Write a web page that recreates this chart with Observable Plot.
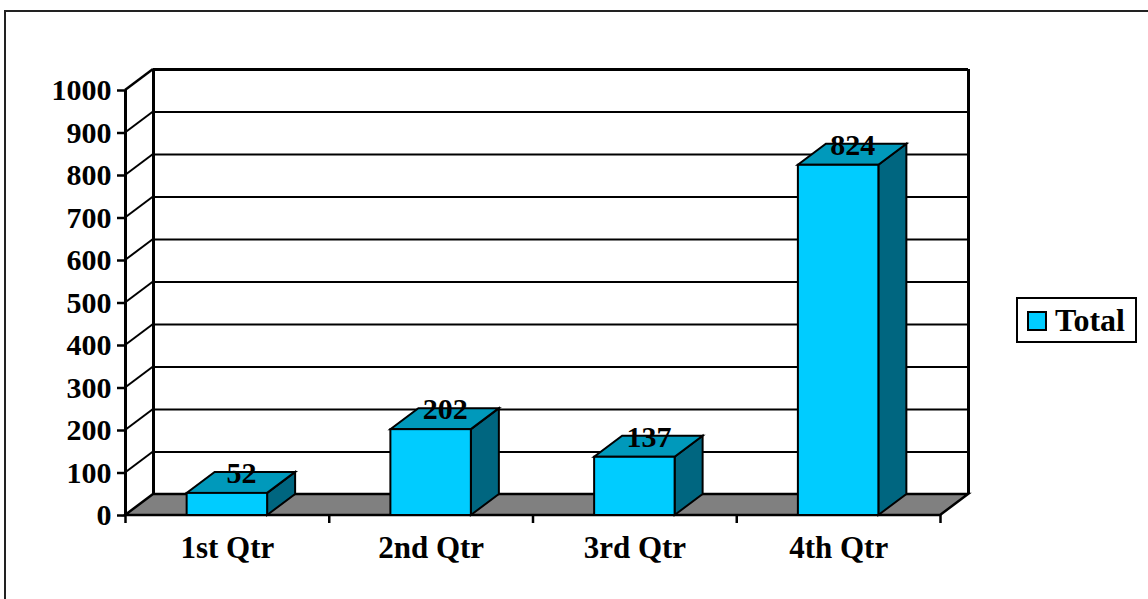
<!DOCTYPE html>
<html>
<head>
<meta charset="utf-8">
<script src="https://cdn.jsdelivr.net/npm/d3@7"></script>
<script src="https://cdn.jsdelivr.net/npm/@observablehq/plot@0.6"></script>
<style>
  html, body { margin: 0; padding: 0; background: white; }
  #wrap { position: relative; width: 1148px; height: 599px; overflow: hidden; font-family: "Liberation Serif", "Times New Roman", serif; }
  #frame { position: absolute; left: 4px; top: 10px; width: 1200px; height: 700px; border: 2px solid #222; box-sizing: border-box; pointer-events: none; }
  #legend { position: absolute; left: 1016px; top: 297px; width: 121px; height: 46px; border: 2px solid black; box-sizing: border-box; background: white; }
  #legend .sw { position: absolute; left: 9px; top: 12px; width: 20px; height: 20px; border: 2px solid black; box-sizing: border-box; background: #00ccff; }
  #legend .tx { position: absolute; left: 37px; top: 4px; font-size: 32px; font-weight: bold; line-height: 34px; color: black; }
</style>
</head>
<body>
<div id="wrap">
  <div id="chart"></div>
  <div id="frame"></div>
  <div id="legend"><div class="sw"></div><div class="tx"></div></div>
</div>
<script>
// ---- data ----
const quarters = ["1st Qtr", "2nd Qtr", "3rd Qtr", "4th Qtr"];
const totals = [52, 202, 137, 824];
const yTicks = [0, 100, 200, 300, 400, 500, 600, 700, 800, 900, 1000];
const seriesName = "Total";

// ---- style / geometry ----
const DX = 28, DY = -21;      // oblique depth offset in pixels
const BW = 0.395;             // bar width as fraction of a category
const FRONT = "#00ccff", TOP = "#0099bb", SIDE = "#006680", FLOOR = "#808080";
const FONT = "'Liberation Serif', 'Times New Roman', serif";

const rows = quarters.map((q, i) => ({q, i, v: totals[i]}));
const nCat = quarters.length;
const yMax = yTicks[yTicks.length - 1];

function poly(g, pts, fill, sw = 2) {
  g.append("path")
    .attr("d", "M" + pts.map(p => p.join(",")).join("L") + "Z")
    .attr("fill", fill).attr("stroke", "black").attr("stroke-width", sw)
    .attr("stroke-linejoin", "miter");
}

// left side wall diagonals
const walls = (index, {x, y}) => {
  const g = d3.create("svg:g");
  const x0 = x(0);
  for (const v of yTicks) {
    if (v === 0) continue;
    g.append("line").attr("x1", x0).attr("y1", y(v)).attr("x2", x0 + DX).attr("y2", y(v) + DY)
      .attr("stroke", "black").attr("stroke-width", v === yMax ? 2.5 : 2);
  }
  return g.node();
};

// floor
const floor = (index, {x, y}) => {
  const g = d3.create("svg:g");
  const xa = x(0), xb = x(nCat), y0 = y(0);
  poly(g, [[xa, y0], [xb, y0], [xb + DX, y0 + DY], [xa + DX, y0 + DY]], FLOOR, 2.5);
  return g.node();
};

// side + top faces of the 3D columns
const faces = (index, {x, y}) => {
  const g = d3.create("svg:g");
  for (const d of rows) {
    const xl = x(d.i + 0.5 - BW / 2), xr = x(d.i + 0.5 + BW / 2);
    const y0 = y(0), yt = y(d.v);
    poly(g, [[xr, y0], [xr + DX, y0 + DY], [xr + DX, yt + DY], [xr, yt]], SIDE);
    poly(g, [[xl, yt], [xr, yt], [xr + DX, yt + DY], [xl + DX, yt + DY]], TOP);
  }
  return g.node();
};

const chart = Plot.plot({
  width: 1148,
  height: 599,
  marginLeft: 125,
  marginRight: 208,
  marginTop: 90,
  marginBottom: 84,
  style: {fontFamily: FONT, fontWeight: "bold", fontSize: "30px", color: "black", background: "transparent", overflow: "visible"},
  x: {type: "linear", domain: [0, nCat]},
  y: {domain: [0, yMax]},
  marks: [
    // back wall gridlines
    Plot.ruleY(yTicks.filter(v => v > 0), {x1: 0, x2: nCat, dx: DX, dy: DY, stroke: "black", strokeWidth: d => d === yMax ? 3 : 2}),
    // back wall vertical edges
    Plot.ruleX([0, nCat], {y1: 0, y2: yMax, dx: DX, dy: DY, stroke: "black", strokeWidth: 3}),
    walls,
    floor,
    faces,
    // front faces of columns
    Plot.rect(rows, {x1: d => d.i + 0.5 - BW / 2, x2: d => d.i + 0.5 + BW / 2, y1: 0, y2: "v", fill: FRONT, stroke: "black", strokeWidth: 2}),
    // front y axis line
    Plot.ruleX([0], {y1: 0, y2: yMax, stroke: "black", strokeWidth: 3}),
    Plot.axisY({ticks: yTicks, tickFormat: d3.format("d"), tickSize: 8, tickPadding: 6, strokeWidth: 2.5, fontSize: 30, fontWeight: "bold", label: null}),
    Plot.axisX({ticks: d3.range(nCat + 1), tickSize: 8, strokeWidth: 2.5, tickFormat: () => "", label: null}),
    // category labels
    Plot.text(rows, {x: d => d.i + 0.5, y: 0, text: "q", dy: 33, fontSize: 31, fontWeight: "bold", fill: "black"}),
    // value labels
    Plot.text(rows, {x: d => d.i + 0.5, y: "v", text: d => String(d.v), dx: 14, dy: -20, fontSize: 30, fontWeight: "bold", fill: "black"})
  ]
});
document.getElementById("chart").appendChild(chart);
document.querySelector("#legend .tx").textContent = seriesName;
</script>
</body>
</html>
